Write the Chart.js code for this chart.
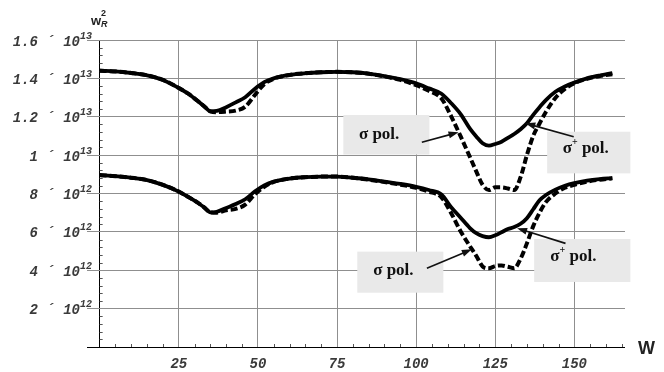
<!DOCTYPE html>
<html>
<head>
<meta charset="utf-8">
<script src="https://cdn.jsdelivr.net/npm/chart.js@4.4.1/dist/chart.umd.min.js"></script>
<style>
  html, body { margin: 0; padding: 0; background: #fff; }
  #wrap { width: 664px; height: 372px; }
</style>
</head>
<body>
<div id="wrap"><canvas id="chart" width="664" height="372"></canvas></div>
<script>
// W values, shared by the four curves
const wValues = [0, 5, 10, 15, 20, 25, 28, 31, 33, 35, 37, 40, 43, 46, 49, 52, 55, 60, 65, 70,
  75, 80, 85, 90, 95, 100, 104, 108, 111, 114, 117, 119, 121, 123, 125, 127, 129, 131, 133, 135,
  137, 139, 141, 144, 147, 150, 154, 158, 162];

// w_R^2, in units of 10^12
const upperSolid = [14.40, 14.36, 14.28, 14.16, 13.92, 13.50, 13.20, 12.82, 12.55, 12.28,
  12.30, 12.50, 12.75, 13.02, 13.45, 13.80, 14.00, 14.18, 14.27, 14.32,
  14.34, 14.32, 14.25, 14.12, 13.96, 13.74, 13.48, 13.20, 12.72, 12.15,
  11.38, 10.97, 10.62, 10.49, 10.58, 10.70, 10.90, 11.10, 11.35, 11.66,
  12.10, 12.50, 12.87, 13.30, 13.58, 13.78, 14.00, 14.15, 14.27];
const upperDashed = [14.40, 14.36, 14.28, 14.16, 13.92, 13.50, 13.20, 12.82, 12.55, 12.28,
  12.24, 12.27, 12.32, 12.52, 13.12, 13.70, 13.98, 14.18, 14.27, 14.32,
  14.34, 14.32, 14.24, 14.10, 13.92, 13.65, 13.35, 12.95, 12.05, 11.00,
  9.90, 9.15, 8.45, 8.18, 8.32, 8.32, 8.26, 8.18, 8.85, 10.00,
  11.00, 11.65, 12.25, 12.98, 13.45, 13.75, 13.98, 14.12, 14.22];
const lowerSolid = [8.96, 8.90, 8.82, 8.70, 8.45, 8.10, 7.82, 7.52, 7.28, 7.02,
  7.05, 7.25, 7.45, 7.70, 8.10, 8.42, 8.62, 8.78, 8.85, 8.88,
  8.88, 8.82, 8.74, 8.62, 8.50, 8.35, 8.18, 7.95, 7.30, 6.75,
  6.20, 5.93, 5.78, 5.72, 5.82, 5.98, 6.15, 6.25, 6.42, 6.71,
  7.18, 7.65, 7.92, 8.20, 8.40, 8.54, 8.67, 8.75, 8.80];
const lowerDashed = [8.96, 8.90, 8.82, 8.70, 8.45, 8.10, 7.82, 7.52, 7.28, 7.02,
  7.00, 7.12, 7.20, 7.42, 7.95, 8.35, 8.60, 8.78, 8.85, 8.88,
  8.88, 8.82, 8.72, 8.60, 8.46, 8.30, 8.10, 7.80, 7.00, 6.05,
  5.25, 4.75, 4.20, 4.10, 4.22, 4.25, 4.18, 4.10, 4.60, 5.40,
  6.30, 7.00, 7.55, 8.00, 8.30, 8.45, 8.62, 8.72, 8.79];

const xTicks = [0, 25, 50, 75, 100, 125, 150];
const yTicks = [2, 4, 6, 8, 10, 12, 14, 16];
const yTickLabels = ['2 ´ 10^12', '4 ´ 10^12', '6 ´ 10^12', '8 ´ 10^12',
  '1 ´ 10^13', '1.2 ´ 10^13', '1.4 ´ 10^13', '1.6 ´ 10^13'];

// labels on grey boxes, in data units (W, 10^12)
const notes = [
  { sup: '',  box: [77, 104.2, 12.09, 10.03], at: [88.3, 11.05], from: [101.8, 10.67], to: [113.4, 11.19] },
  { sup: '+', box: [141.4, 167.7, 11.22, 9.05], at: [153.6, 10.32], from: [149.8, 10.96], to: [134.5, 11.66] },
  { sup: '',  box: [81.4, 108.6, 4.97, 2.83], at: [92.8, 3.96], from: [103.4, 4.10], to: [117.6, 5.09] },
  { sup: '+', box: [137.3, 167.7, 5.63, 3.39], at: [149.7, 4.69], from: [147.2, 5.40], to: [131.9, 6.19] }
];

const GRID = '#8f8f8f';
const MONO = '"Liberation Mono", "DejaVu Sans Mono", monospace';
const tickFont = { family: MONO, size: 14, style: 'italic', weight: 'bold' };

function curve(data, dashed) {
  return {
    data: data.map((v, i) => ({ x: wValues[i], y: v })),
    borderColor: '#000',
    borderWidth: dashed ? 4 : 3.8,
    borderDash: dashed ? [7, 3] : [],
    pointRadius: 0,
    cubicInterpolationMode: 'monotone',
    fill: false
  };
}

function arrow(ctx, x1, y1, x2, y2) {
  const a = Math.atan2(y2 - y1, x2 - x1);
  ctx.beginPath();
  ctx.moveTo(x1, y1);
  ctx.lineTo(x2 - 6 * Math.cos(a), y2 - 6 * Math.sin(a));
  ctx.stroke();
  ctx.beginPath();
  ctx.moveTo(x2, y2);
  ctx.lineTo(x2 - 10 * Math.cos(a) + 3.5 * Math.sin(a), y2 - 10 * Math.sin(a) - 3.5 * Math.cos(a));
  ctx.lineTo(x2 - 10 * Math.cos(a) - 3.5 * Math.sin(a), y2 - 10 * Math.sin(a) + 3.5 * Math.cos(a));
  ctx.closePath();
  ctx.fill();
}

const decor = {
  id: 'decor',
  beforeDatasetsDraw(chart) {
    const { ctx, scales: { x, y } } = chart;
    ctx.save();
    // grey label boxes
    ctx.fillStyle = '#e9e9e9';
    notes.forEach(n => {
      const x0 = x.getPixelForValue(n.box[0]), x1 = x.getPixelForValue(n.box[1]);
      const y0 = y.getPixelForValue(n.box[2]), y1 = y.getPixelForValue(n.box[3]);
      ctx.fillRect(x0, y0, x1 - x0, y1 - y0);
    });
    // minor ticks on both axes
    ctx.strokeStyle = '#555';
    ctx.lineWidth = 1;
    const ox = x.getPixelForValue(0), oy = y.getPixelForValue(0);
    ctx.beginPath();
    for (let v = 5; v < 166; v += 5) {
      if (v % 25 === 0) continue;
      const px = Math.round(x.getPixelForValue(v)) + 0.5;
      ctx.moveTo(px, oy);
      ctx.lineTo(px, oy - 3);
    }
    for (let k = 1; k < 40; k++) {
      if (k % 5 === 0) continue;
      const py = Math.round(y.getPixelForValue(k * 0.4)) + 0.5;
      ctx.moveTo(ox, py);
      ctx.lineTo(ox + 3, py);
    }
    ctx.stroke();
    ctx.restore();
  },
  afterDatasetsDraw(chart) {
    const { ctx, scales: { x, y } } = chart;
    ctx.save();
    ctx.fillStyle = '#111';
    ctx.strokeStyle = '#111';
    ctx.lineWidth = 1.6;
    ctx.textBaseline = 'middle';
    ctx.textAlign = 'left';
    const big = 'bold 17px "Liberation Serif", serif';
    const small = 'bold 10px "Liberation Serif", serif';
    notes.forEach(n => {
      const cx = x.getPixelForValue(n.at[0]), cy = y.getPixelForValue(n.at[1]);
      ctx.font = big;
      const w1 = ctx.measureText('σ').width;
      const w3 = ctx.measureText(' pol.').width;
      ctx.font = small;
      const w2 = n.sup ? ctx.measureText(n.sup).width : 0;
      let px = cx - (w1 + w2 + w3) / 2;
      ctx.font = big;
      ctx.fillText('σ', px, cy);
      px += w1;
      if (n.sup) {
        ctx.font = small;
        ctx.fillText(n.sup, px, cy - 7);
        px += w2;
      }
      ctx.font = big;
      ctx.fillText(' pol.', px, cy);
      arrow(ctx, x.getPixelForValue(n.from[0]), y.getPixelForValue(n.from[1]),
        x.getPixelForValue(n.to[0]), y.getPixelForValue(n.to[1]));
    });
    ctx.restore();
  },
  afterDraw(chart) {
    const { ctx, scales: { y } } = chart;
    ctx.save();
    // y tick labels with raised exponent
    ctx.fillStyle = '#3a3a3a';
    ctx.textBaseline = 'middle';
    yTicks.forEach((v, i) => {
      const [base, pow] = yTickLabels[i].split('^');
      const py = y.getPixelForValue(v) + 2;
      ctx.textAlign = 'right';
      ctx.font = 'italic bold 14px ' + MONO;
      ctx.fillText(base, 80, py);
      ctx.textAlign = 'left';
      ctx.font = 'italic bold 10px ' + MONO;
      ctx.fillText(pow, 80, py - 6);
    });
    // axis titles
    ctx.fillStyle = '#222';
    ctx.textAlign = 'left';
    ctx.textBaseline = 'alphabetic';
    ctx.font = 'bold 13px "Liberation Sans", Arial, sans-serif';
    ctx.fillText('w', 91, 25);
    ctx.font = 'bold 9px "Liberation Sans", Arial, sans-serif';
    ctx.fillText('2', 101, 16);
    ctx.font = 'bold italic 9px "Liberation Sans", Arial, sans-serif';
    ctx.fillText('R', 101, 27);
    ctx.font = 'bold 18px "Liberation Sans", Arial, sans-serif';
    ctx.fillText('W', 638, 354);
    ctx.restore();
  }
};

new Chart(document.getElementById('chart'), {
  type: 'line',
  data: {
    datasets: [
      curve(upperDashed, true),
      curve(lowerDashed, true),
      curve(upperSolid, false),
      curve(lowerSolid, false)
    ]
  },
  options: {
    responsive: false,
    animation: false,
    layout: { padding: { top: 40, right: 39, left: 0, bottom: 0 } },
    plugins: { legend: { display: false }, tooltip: { enabled: false } },
    scales: {
      x: {
        type: 'linear',
        min: -4,
        max: 166,
        afterBuildTicks: (scale) => { scale.ticks = xTicks.map(v => ({ value: v })); },
        afterFit: (scale) => { scale.height = 25; },
        border: { display: false },
        grid: {
          drawTicks: false,
          color: (c) => c.tick && c.tick.value === 0 ? '#000' : GRID,
          lineWidth: 1
        },
        ticks: {
          padding: 9,
          color: '#3a3a3a',
          font: tickFont,
          maxRotation: 0,
          callback: (v) => v === 0 ? '' : String(v)
        }
      },
      y: {
        min: 0,
        max: 16,
        afterFit: (scale) => { scale.width = 87; },
        border: { display: false },
        grid: {
          drawTicks: false,
          color: (c) => c.tick && c.tick.value === 0 ? '#000' : GRID,
          lineWidth: 1
        },
        ticks: {
          stepSize: 2,
          display: false
        }
      }
    }
  },
  plugins: [decor]
});
</script>
</body>
</html>
